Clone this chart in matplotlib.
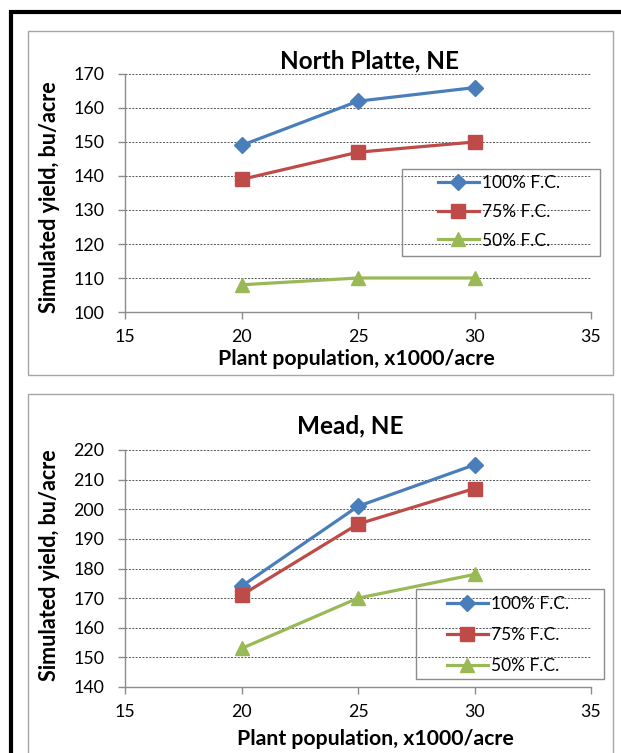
import matplotlib.pyplot as plt
from matplotlib.patches import Rectangle

plt.rcParams['font.family'] = ['Lato', 'DejaVu Sans']

# data
population = [20, 25, 30]
series_labels = ['100% F.C.', '75% F.C.', '50% F.C.']

np_100 = [149, 162, 166]
np_75 = [139, 147, 150]
np_50 = [108, 110, 110]

mead_100 = [174, 201, 215]
mead_75 = [171, 195, 207]
mead_50 = [153, 170, 178]

x_ticks = [15, 20, 25, 30, 35]
np_yticks = [100, 110, 120, 130, 140, 150, 160, 170]
mead_yticks = [140, 150, 160, 170, 180, 190, 200, 210, 220]

colors = ['#4A7EBB', '#BE4B48', '#98B954']
markers = ['D', 's', '^']
msizes = [8, 9.5, 9.5]

fig = plt.figure(figsize=(6.21, 7.53), dpi=100)
W, H = 621, 753

def fx(px):
    return px / W

def fy(py):
    return 1 - py / H

def box(x0, y0, x1, y1, color, lw):
    fig.patches.append(Rectangle((fx(x0), fy(y1)), fx(x1) - fx(x0), fy(y0) - fy(y1),
                                 transform=fig.transFigure, fill=False,
                                 edgecolor=color, linewidth=lw))

# outer black frame (cropped on right/bottom)
box(10.5, 11.5, 700, 800, 'black', 3)
# gray chart boxes
box(28, 31, 613, 375, '#A6A6A6', 1.0)
box(28, 394, 613, 800, '#A6A6A6', 1.0)

panels = [
    dict(title='North Platte, NE', ys=[np_100, np_75, np_50], yticks=np_yticks,
         top=74, bot=312, title_xy=(370, 68), xlab_xy=(356, 365), ylab_xy=(50, 197),
         leg_box=(402, 169, 600, 256), leg_anchor=(438, 212), leg_space=0.72),
    dict(title='Mead, NE', ys=[mead_100, mead_75, mead_50], yticks=mead_yticks,
         top=450, bot=687, title_xy=(350, 433), xlab_xy=(375, 745), ylab_xy=(50, 565),
         leg_box=(416, 589, 604, 679), leg_anchor=(447, 635), leg_space=0.86),
]

left_px, right_px = 125, 591

for p in panels:
    ax = fig.add_axes([fx(left_px), fy(p['bot']), fx(right_px) - fx(left_px),
                       fy(p['top']) - fy(p['bot'])])
    for ys, lab, c, m, ms in zip(p['ys'], series_labels, colors, markers, msizes):
        ax.plot(population, ys, color=c, marker=m, markersize=ms, linewidth=2.3,
                label=lab, zorder=3, clip_on=False)
    ax.set_xlim(15, 35)
    ax.set_ylim(p['yticks'][0], p['yticks'][-1])
    ax.set_xticks(x_ticks)
    ax.set_yticks(p['yticks'])
    ax.tick_params(axis='both', labelsize=12.8, colors='#8C8C8C', labelcolor='black',
                   length=5, width=1, direction='out')
    ax.tick_params(axis='x', pad=7)
    ax.tick_params(axis='y', pad=10)
    ax.grid(axis='y', color='#555555', linestyle=(0, (2, 1.5)), linewidth=0.7)
    ax.set_axisbelow(True)
    for s in ['top', 'right']:
        ax.spines[s].set_visible(False)
    for s in ['left', 'bottom']:
        ax.spines[s].set_color('#8C8C8C')
        ax.spines[s].set_linewidth(1.0)

    tx, ty = p['title_xy']
    fig.text(fx(tx), fy(ty), p['title'], fontsize=17.5, fontweight='bold',
             ha='center', va='baseline')
    lx, ly = p['xlab_xy']
    fig.text(fx(lx), fy(ly), 'Plant population, x1000/acre', fontsize=15.3,
             fontweight='bold', ha='center', va='baseline')
    yx, yy = p['ylab_xy']
    fig.text(fx(yx), fy(yy), 'Simulated yield, bu/acre', fontsize=15.5,
             fontweight='bold', ha='center', va='center', rotation=90)

    box(*p['leg_box'], '#8C8C8C', 1.0)
    ax_x, ax_y = p['leg_anchor']
    ax.legend(loc='center left', bbox_to_anchor=(fx(ax_x), fy(ax_y)),
              bbox_transform=fig.transFigure, fontsize=12.5, frameon=False,
              handlelength=2.36, handletextpad=0.17, labelspacing=p['leg_space'],
              borderpad=0, borderaxespad=0)

fig.savefig('out.png', dpi=100)
